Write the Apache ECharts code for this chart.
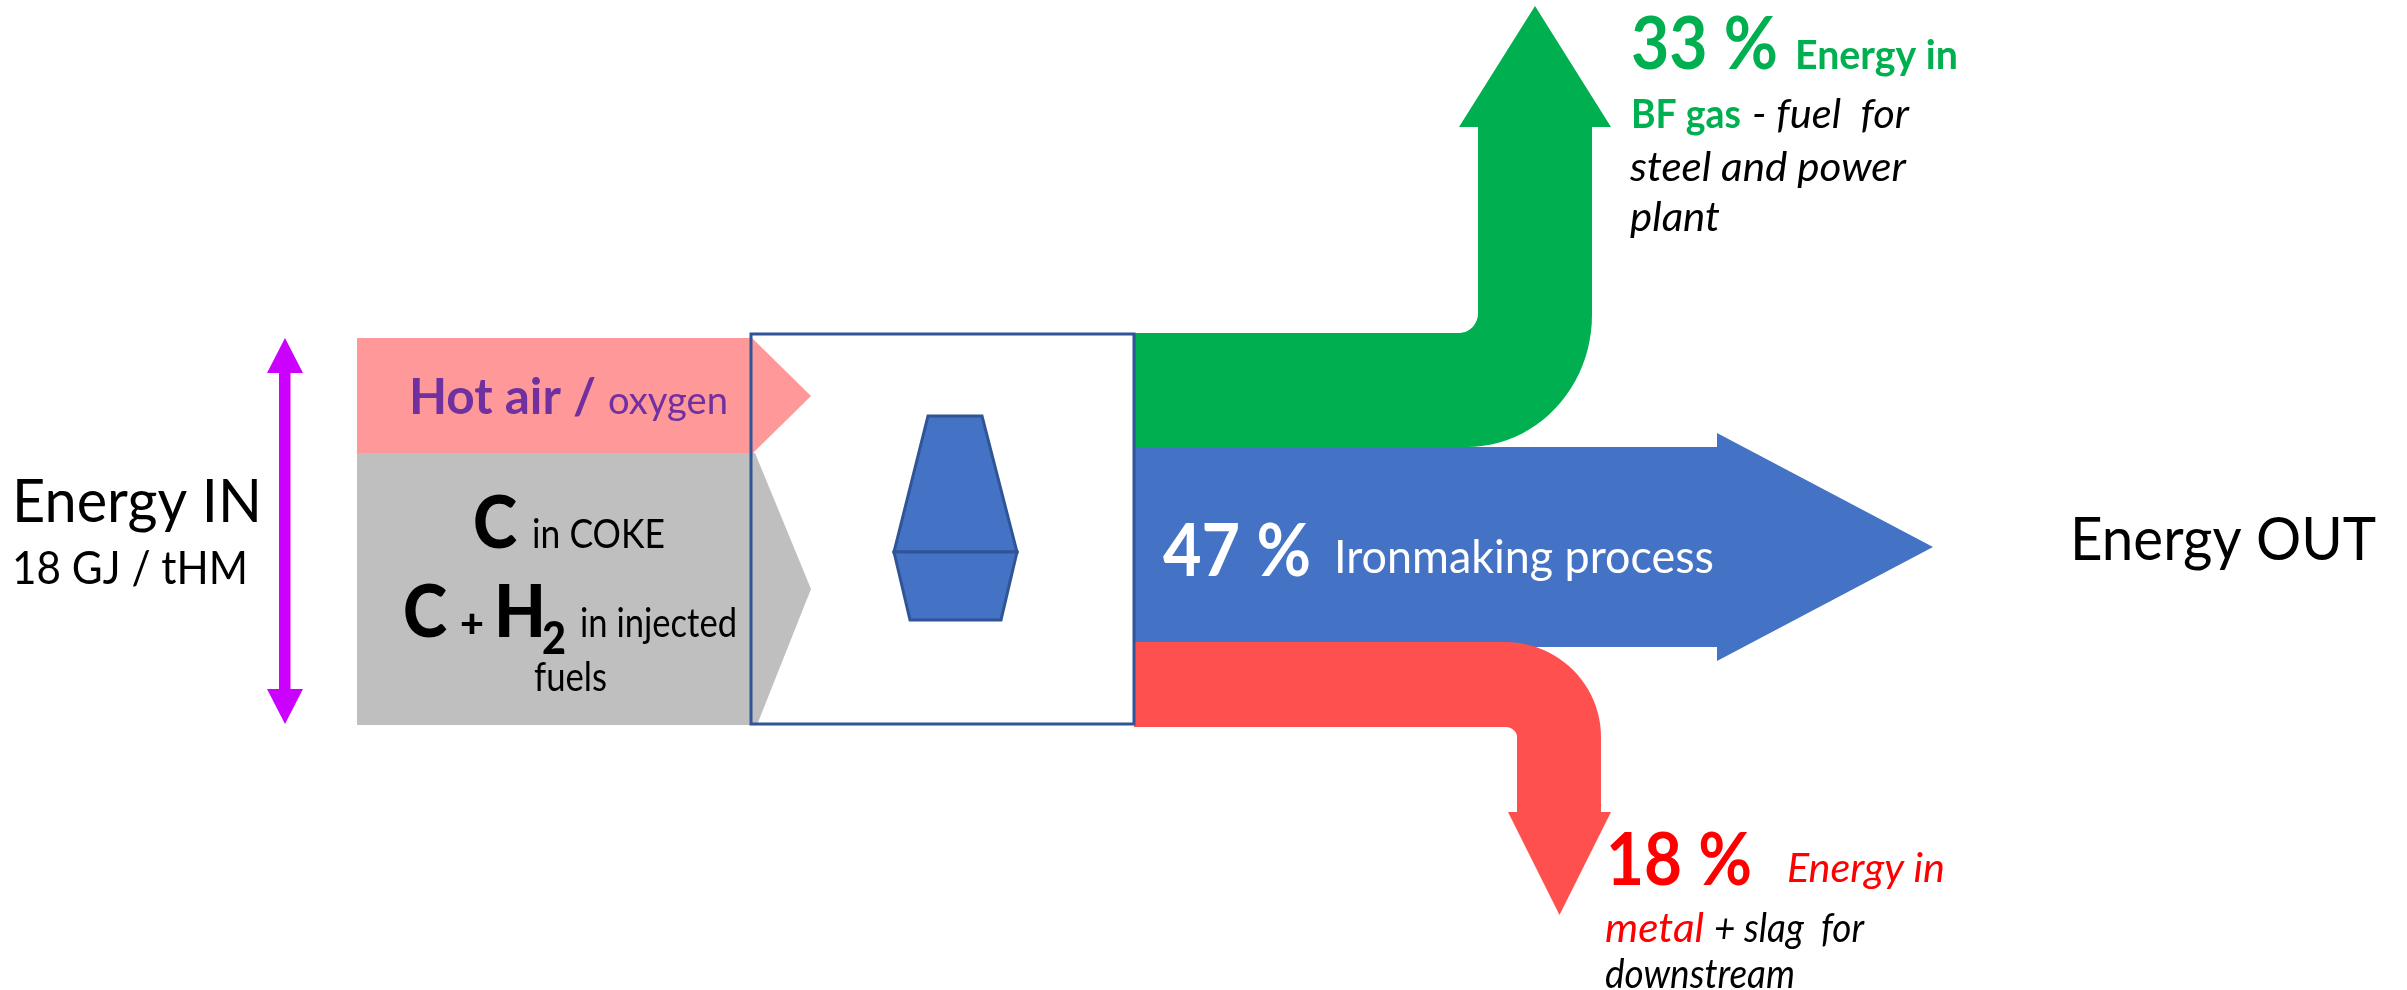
<!DOCTYPE html>
<html>
<head>
<meta charset="utf-8">
<title>Blast furnace energy balance</title>
<style>
  html, body { margin: 0; padding: 0; background: #fff; }
  #chart { width: 2407px; height: 990px; }
</style>
<script src="https://cdn.jsdelivr.net/npm/echarts@6/dist/echarts.min.js"></script>
</head>
<body>
<div id="chart"></div>
<script>
// Energy balance figures
const energyInLabel = 'Energy IN';
const energyInValue = '18 GJ / tHM';
const energyOutLabel = 'Energy OUT';
const gasShare = 33;
const processShare = 47;
const metalShare = 18;

// Colours of the diagram
const PINK = '#FF9999', GREY = '#BFBFBF', BLUE = '#4472C4', DARKBLUE = '#2F5597';
const GREEN = '#00B050', CORAL = '#FF5050', RED = '#FF0000', VIOLET = '#CC00FF';
const PLUM = '#7030A0', BLACK = '#000000', WHITE = '#FFFFFF';

// Quarter-ellipse bend, returned as a run of outline points
function bend(x0, y0, x1, y1, horizontalFirst) {
  const pts = [];
  for (let i = 0; i <= 24; i++) {
    const a = (i / 24) * Math.PI / 2;
    pts.push(horizontalFirst
      ? [x0 + (x1 - x0) * Math.sin(a), y1 - (y1 - y0) * Math.cos(a)]
      : [x1 - (x1 - x0) * Math.cos(a), y0 + (y1 - y0) * Math.sin(a)]);
  }
  return pts;
}

// Outlines in diagram units; the hidden axes map them on to the canvas.
const shapes = [
  { fill: VIOLET, points: [[285, 338], [303, 373], [290.5, 373], [290.5, 689], [303, 689], [285, 724], [267, 689], [279, 689], [279, 373], [267, 373]] },
  { fill: PINK, points: [[357, 338], [752, 338], [811, 396], [753, 453], [357, 453]] },
  { fill: GREY, points: [[357, 453], [755, 453], [811, 589], [757, 725], [357, 725]] },
  { fill: BLUE, points: [[1134, 447], [1717, 447], [1717, 433], [1933, 547], [1717, 661], [1717, 647], [1134, 647]] },
  { fill: GREEN, points: [[1134, 333], ...bend(1459, 333, 1478, 313, true),
      [1478, 127], [1459, 127], [1535, 6], [1611, 127], [1592, 127],
      ...bend(1592, 315, 1467, 447, false), [1134, 447]] },
  { fill: CORAL, points: [[1134, 642], ...bend(1505, 642, 1601, 737, true),
      [1601, 812], [1611, 812], [1559.5, 915], [1508, 812], [1517, 812],
      ...bend(1517, 737, 1505, 727, false), [1134, 727]] },
  { stroke: DARKBLUE, width: 3, points: [[751, 334], [1134, 334], [1134, 724], [751, 724]] },
  { fill: BLUE, stroke: DARKBLUE, width: 3, points: [[928, 416], [982, 416], [1017, 552], [894, 552]] },
  { fill: BLUE, stroke: DARKBLUE, width: 3, points: [[894, 552], [1017, 552], [1001, 620], [910, 620]] }
];

// Text runs: string, left edge, baseline, font size, width, colour, weight, style
const labels = [
  [energyInLabel, 12, 523, 60, 250, BLACK],
  [energyInValue, 12, 585, 46, 236, BLACK],
  ['Hot air /', 409, 415, 50, 187, PLUM, 'bold'],
  ['oxygen', 608, 415, 38, 120, PLUM],
  ['C', 473, 549, 72, 44, BLACK, '900'],
  ['in COKE', 532, 549, 40, 133, BLACK],
  ['C', 403, 638, 72, 44, BLACK, '900'],
  ['+', 460, 638, 40, 24, BLACK, '900'],
  ['H', 494, 638, 72, 52, BLACK, '900'],
  ['2', 542, 655, 46, 24, BLACK, '900'],
  ['in injected', 580, 638, 40, 157, BLACK],
  ['fuels', 534, 692, 40, 73, BLACK],
  [processShare + ' %', 1163, 577, 72, 148, WHITE, 'bold'],
  ['Ironmaking process', 1334, 574, 46, 380, WHITE],
  [energyOutLabel, 2070, 561, 60, 306, BLACK],
  [gasShare + ' %', 1631, 70, 72, 147, GREEN, 'bold'],
  ['Energy in', 1795, 70, 40, 163, GREEN, 'bold'],
  ['BF gas', 1631, 129, 40, 110, GREEN, 'bold'],
  ['- fuel  for', 1752, 129, 40, 157, BLACK, 'normal', 'italic'],
  ['steel and power', 1630, 182, 40, 276, BLACK, 'normal', 'italic'],
  ['plant', 1630, 232, 40, 90, BLACK, 'normal', 'italic'],
  [metalShare + ' %', 1606, 886, 72, 146, RED, 'bold'],
  ['Energy in', 1787, 883, 40, 158, RED, 'normal', 'italic'],
  ['metal', 1605, 943, 40, 99, RED, 'normal', 'italic'],
  ['+ slag  for', 1714, 943, 40, 150, BLACK, 'normal', 'italic'],
  ['downstream', 1605, 989, 40, 190, BLACK, 'normal', 'italic']
];

const FONT = 'Lato, Carlito, sans-serif';
const ruler = document.createElement('canvas').getContext('2d');

function renderShape(params, api) {
  const s = shapes[params.dataIndex];
  return {
    type: 'polygon',
    shape: { points: s.points.map(p => api.coord(p)) },
    style: { fill: s.fill || 'none', stroke: s.stroke || 'none', lineWidth: s.width || 0, lineJoin: 'miter' }
  };
}

function renderLabel(params, api) {
  const [text, x, base, size, width, colour, weight, slant] = labels[params.dataIndex];
  const font = (slant || 'normal') + ' ' + (weight || 'normal') + ' ' + size + 'px ' + FONT;
  ruler.font = font;
  const natural = ruler.measureText(text).width;
  const c = api.coord([x, base]);
  return {
    type: 'text',
    x: c[0],
    y: c[1] + 0.16 * size,
    scaleX: width / natural,
    style: { text, font, fill: colour, textAlign: 'left', verticalAlign: 'bottom', lineHeight: size }
  };
}

const chart = echarts.init(document.getElementById('chart'), null, { renderer: 'canvas' });
chart.setOption({
  animation: false,
  backgroundColor: '#ffffff',
  grid: { left: 0, right: 0, top: 0, bottom: 0 },
  xAxis: { type: 'value', min: 0, max: 2407, show: false },
  yAxis: { type: 'value', min: 0, max: 990, inverse: true, show: false },
  series: [
    { type: 'custom', coordinateSystem: 'cartesian2d', clip: false, silent: true, z: 1,
      renderItem: renderShape, data: shapes.map((_, i) => [i]) },
    { type: 'custom', coordinateSystem: 'cartesian2d', clip: false, silent: true, z: 2,
      renderItem: renderLabel, data: labels.map((_, i) => [i]) }
  ]
});
</script>
</body>
</html>
